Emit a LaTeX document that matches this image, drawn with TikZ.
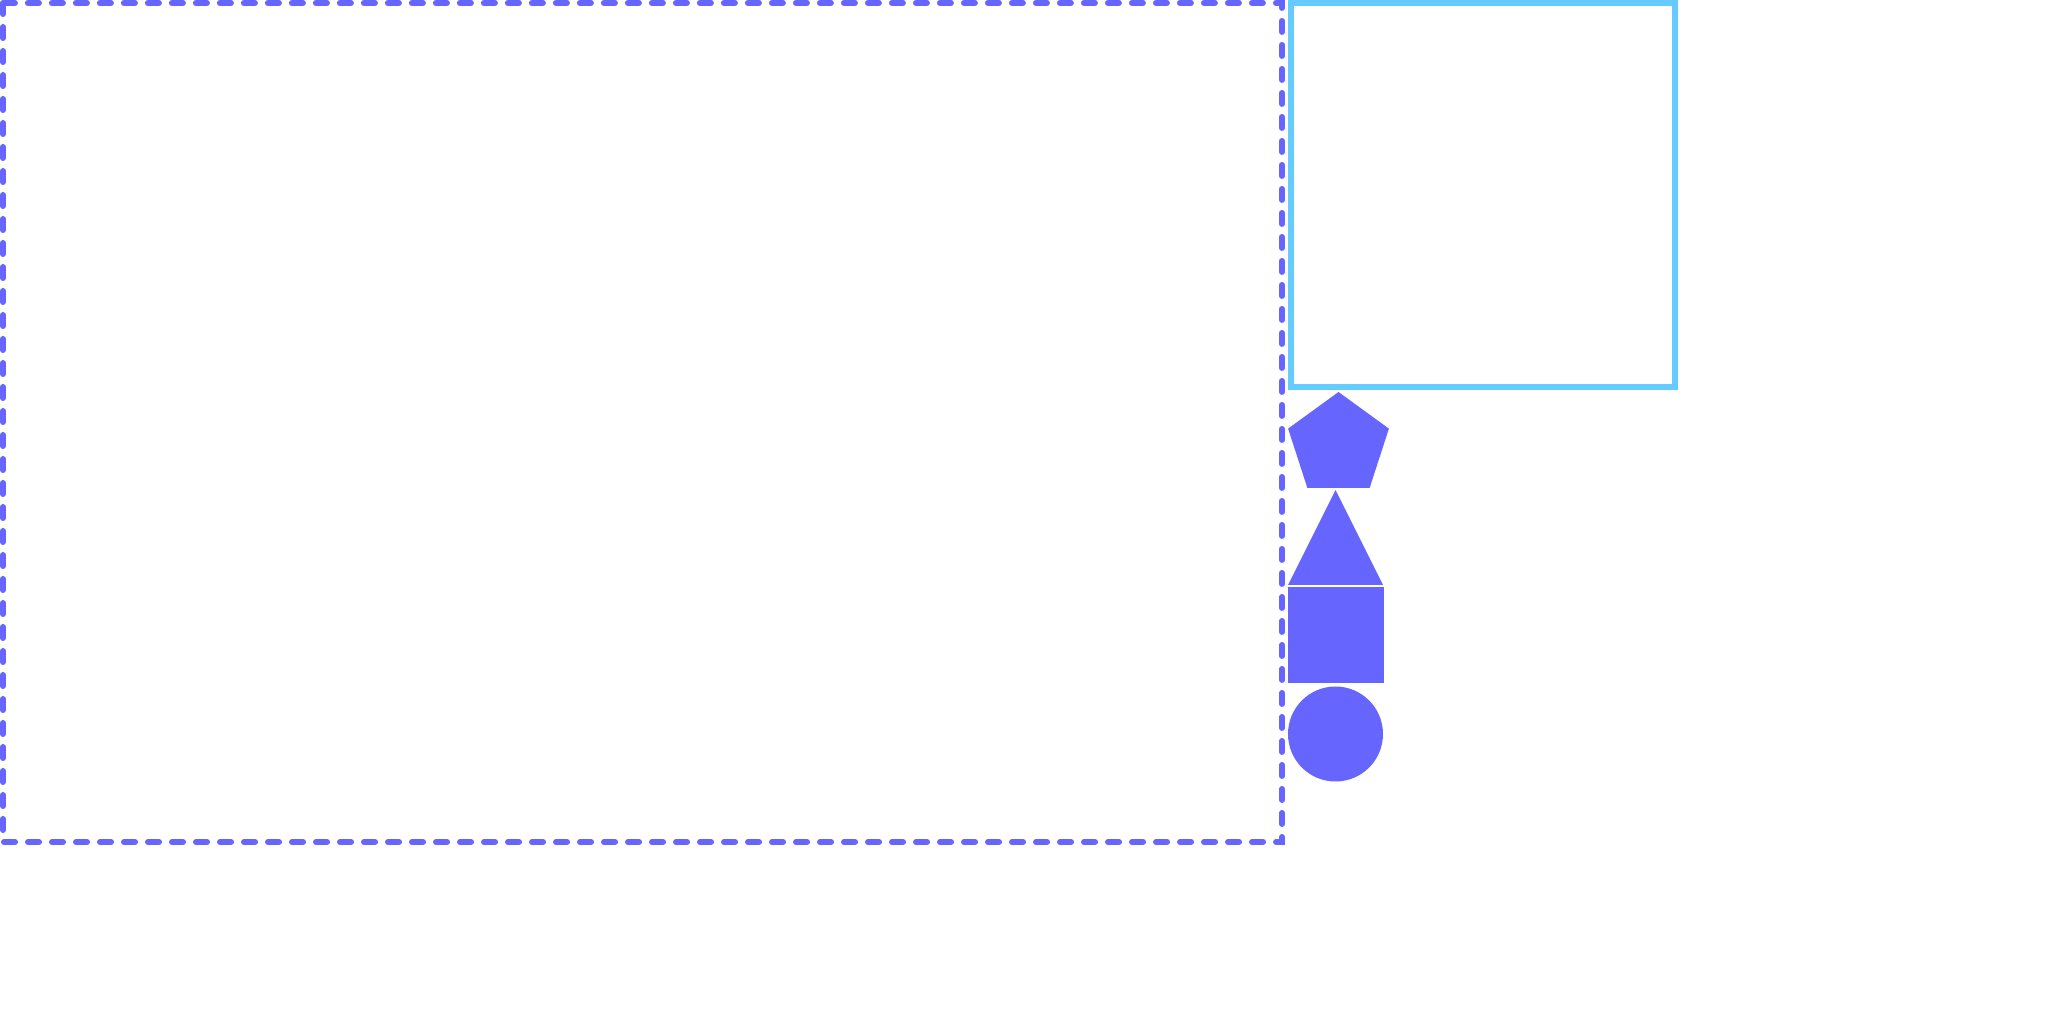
\documentclass[tikz,border=0pt]{standalone}
\usetikzlibrary{shapes.geometric}

\definecolor{shapeblue}{HTML}{6666FF}
\definecolor{skyblue}{HTML}{66CCFF}

\tikzset{
  frame/.style={draw=shapeblue, line width=0.06cm, line cap=round, dash pattern=on 0.11cm off 0.13cm},
  panel/.style={draw=skyblue, line width=0.055cm},
  solid shape/.style={fill=shapeblue, draw=none, inner sep=0pt, outer sep=0pt}
}

\begin{document}
\begin{tikzpicture}
				            \useasboundingbox (0,0) rectangle (20.48,10.24);

				            \draw[frame] (0.03,10.21) rectangle (12.82,1.82);
				            \draw[panel] (12.91,10.21) rectangle (16.75,6.37);

				            \node[solid shape, regular polygon, regular polygon sides=5, minimum size=1.06cm] (pent) at (13.385,5.79) {};
				            \coordinate (triL) at (12.88,4.39);
				            \coordinate (triR) at (13.83,4.39);
				            \coordinate (triT) at (13.355,5.34);
				            \fill[shapeblue] (triL) -- (triR) -- (triT) -- cycle;
				            \node[solid shape, rectangle, minimum width=0.96cm, minimum height=0.96cm] (sq) at (13.36,3.89) {};
				            \node[solid shape, circle, minimum size=0.95cm] (circ) at (13.355,2.90) {};

			            \end{tikzpicture}
\end{document}
